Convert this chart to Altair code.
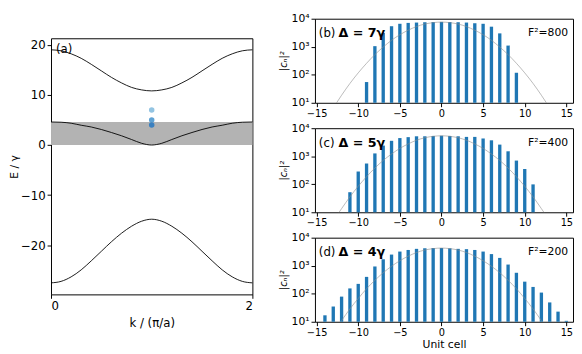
import altair as alt
import pandas as pd

FONT = "DejaVu Sans"

# ---------------- panel (a): band structure ----------------
k_vals = [0.0, 0.1, 0.2, 0.3, 0.4, 0.5, 0.6, 0.7, 0.8, 0.9, 1.0,
          1.1, 1.2, 1.3, 1.4, 1.5, 1.6, 1.7, 1.8, 1.9, 2.0]
band_upper = [19.0, 18.8, 18.2, 17.3, 16.1, 14.8, 13.5, 12.4, 11.5, 11.0, 10.8,
              11.0, 11.5, 12.4, 13.5, 14.8, 16.1, 17.3, 18.2, 18.8, 19.0]
band_middle = [4.6, 4.55, 4.35, 3.95, 3.6, 3.1, 2.5, 1.85, 1.1, 0.35, 0.0,
               0.35, 1.1, 1.85, 2.5, 3.1, 3.6, 3.95, 4.35, 4.55, 4.6]
band_lower = [-27.5, -27.2, -26.3, -24.9, -23.1, -21.2, -19.3, -17.6, -16.2, -15.2, -14.8,
              -15.2, -16.2, -17.6, -19.3, -21.2, -23.1, -24.9, -26.3, -27.2, -27.5]
gap_k = [0.0, 2.0]
gap_E = [0.0, 4.6]
state_k = [1.0, 1.0, 1.0]
state_E = [7.0, 5.0, 4.0]
state_colors = ["#93c4e2", "#5fa2d4", "#3a80c0"]

# ---------------- panels (b)-(d): |c_n|^2 ----------------
n_b = list(range(-9, 10))
c_b = [55, 1050, 3100, 5400, 6600, 7100, 7300, 7500, 7600, 7700,
       7600, 7500, 7300, 6900, 6600, 5200, 3000, 1100, 118]
n_c = list(range(-11, 12))
c_c = [52, 285, 550, 1260, 2400, 3550, 4450, 4800, 5150, 5150, 5300, 5400,
       5300, 5150, 4900, 4900, 4300, 3700, 2600, 1500, 700, 350, 99]
n_d = list(range(-14, 16))
c_d = [17, 35, 79, 155, 225, 400, 940, 1700, 2500, 3200, 3650, 4000, 4200, 4300,
       4300, 4200, 4000, 3900, 3650, 3200, 2600, 1900, 1100, 560, 270, 175, 110, 49, 23, 10.8]

g_n_b = [-12.6, -12, -11, -10, -9, -8, -7, -6, -5, -4, -3, -2, -1, 0,
         1, 2, 3, 4, 5, 6, 7, 8, 9, 10, 11, 12, 12.6]
g_v_b = [10, 18.6, 49, 117, 257, 525, 977, 1700, 2690, 3890, 5250, 6460, 7240, 7590,
         7240, 6460, 5250, 3890, 2690, 1700, 977, 525, 257, 117, 49, 18.6, 10]
g_n_c = [-12.3, -12, -11, -10, -9, -8, -7, -6, -5, -4, -3, -2, -1, 0,
         1, 2, 3, 4, 5, 6, 7, 8, 9, 10, 11, 12, 12.3]
g_v_c = [10, 13.5, 35.5, 85, 186, 380, 708, 1200, 1910, 2750, 3720, 4570, 5130, 5370,
         5130, 4570, 3720, 2750, 1910, 1200, 708, 380, 186, 85, 35.5, 13.5, 10]
g_n_d = [-12.1, -12, -11, -10, -9, -8, -7, -6, -5, -4, -3, -2, -1, 0,
         1, 2, 3, 4, 5, 6, 7, 8, 9, 10, 11, 12, 12.1]
g_v_d = [10, 11, 28.8, 67.6, 151, 302, 562, 955, 1510, 2190, 2950, 3630, 4070, 4270,
         4070, 3630, 2950, 2190, 1510, 955, 562, 302, 151, 67.6, 28.8, 11, 10]

panel_letters = ["(b)", "(c)", "(d)"]
panel_deltas = ["Δ = 7γ", "Δ = 5γ", "Δ = 4γ"]
panel_F2 = ["F²=800", "F²=400", "F²=200"]
x_ticks_right = [-15, -10, -5, 0, 5, 10, 15]
y_ticks_right = [10, 100, 1000, 10000]

BAR_COLOR = "#1f77b4"

# ---------------- build panel (a) ----------------
WL, HL = 206, 262
rows = []
for name, vals in (("upper", band_upper), ("middle", band_middle), ("lower", band_lower)):
    for kk, e in zip(k_vals, vals):
        rows.append({"band": name, "k": kk, "E": e})
bands = pd.DataFrame(rows)
gap = pd.DataFrame({"k0": [gap_k[0]], "k1": [gap_k[1]], "E0": [gap_E[0]], "E1": [gap_E[1]]})
states = pd.DataFrame({"k": state_k, "E": state_E, "col": state_colors})

xa = alt.X("k:Q", scale=alt.Scale(domain=[0, 2], nice=False, zero=False),
           axis=alt.Axis(values=[0, 1, 2], format="d", title="k / (π/a)",
                         labelFontSize=12, titleFontSize=12, titlePadding=7))
ya = alt.Y("E:Q", scale=alt.Scale(domain=[-29.8, 21.3], nice=False, zero=False),
           axis=alt.Axis(values=[-20, -10, 0, 10, 20], title="E / γ",
                         labelFontSize=12, titleFontSize=11, titlePadding=1))

gap_layer = alt.Chart(gap).mark_rect(color="#b3b3b3").encode(
    x=alt.X("k0:Q", scale=alt.Scale(domain=[0, 2], nice=False)), x2="k1:Q",
    y=alt.Y("E0:Q"), y2="E1:Q")
line_layer = alt.Chart(bands).mark_line(color="black", strokeWidth=0.9,
                                        interpolate="monotone").encode(
    x=xa, y=ya, detail="band:N")
dot_layer = alt.Chart(states).mark_circle(size=32, opacity=1).encode(
    x="k:Q", y="E:Q", color=alt.Color("col:N", scale=None))
a_label = alt.Chart(pd.DataFrame({"t": ["(a)"]})).mark_text(
    align="left", baseline="middle", fontSize=12, font=FONT, color="black").encode(
    text="t:N", x=alt.value(5), y=alt.value(11))

left_plot = alt.layer(gap_layer, line_layer, dot_layer, a_label).properties(
    width=WL, height=HL)
spacer = alt.Chart(pd.DataFrame({"v": [0]})).mark_point(opacity=0, size=1).encode(
    x=alt.value(0), y=alt.value(0)).properties(
    width=WL, height=1, view=alt.ViewBackground(stroke="transparent"))
left = alt.vconcat(spacer, left_plot, spacing=17)

# ---------------- build panels (b)-(d) ----------------
WR, HR = 264, 86
label_expr = "'10' + ['⁰','¹','²','³','⁴','⁵'][round(log(datum.value)/LN10)]"


def make_panel(ns, cs, gn, gv, letter, delta, f2, last):
    bars = pd.DataFrame({"n": ns, "c": cs, "base": [10] * len(ns)})
    gauss = pd.DataFrame({"n": gn, "c": gv})
    xs = alt.Scale(domain=[-15.2, 15.8], nice=False, zero=False)
    ys = alt.Scale(type="log", domain=[10, 10000], nice=False)
    xaxis = alt.Axis(values=x_ticks_right, format="d", labelFontSize=10,
                     title="Unit cell" if last else None, titleFontSize=11, titlePadding=1)
    yaxis = alt.Axis(values=y_ticks_right, labelExpr=label_expr, labelFontSize=11,
                     title="|cₙ|²", titleFontSize=10, titleFontStyle="italic",
                     titleFontWeight="normal", titlePadding=3)
    bar_layer = alt.Chart(bars).transform_calculate(
        n0="datum.n - 0.2", n1="datum.n + 0.2").mark_bar(color=BAR_COLOR).encode(
        x=alt.X("n0:Q", scale=xs, axis=xaxis), x2="n1:Q",
        y=alt.Y("c:Q", scale=ys, axis=yaxis), y2="base:Q")
    g_layer = alt.Chart(gauss).mark_line(color="#8c8c8c", strokeWidth=0.6,
                                         interpolate="monotone").encode(
        x=alt.X("n:Q", scale=xs), y=alt.Y("c:Q", scale=ys))
    t1 = alt.Chart(pd.DataFrame({"t": [letter]})).mark_text(
        align="left", baseline="middle", fontSize=12, font=FONT, color="black").encode(
        text="t:N", x=alt.value(4), y=alt.value(15))
    t2 = alt.Chart(pd.DataFrame({"t": [delta]})).mark_text(
        align="left", baseline="middle", fontSize=13, fontWeight="bold", font=FONT,
        color="black").encode(text="t:N", x=alt.value(24), y=alt.value(15))
    t3 = alt.Chart(pd.DataFrame({"t": [f2]})).mark_text(
        align="right", baseline="middle", fontSize=11, font=FONT, color="black").encode(
        text="t:N", x=alt.value(WR - 5), y=alt.value(15))
    return alt.layer(bar_layer, g_layer, t1, t2, t3).properties(width=WR, height=HR)


panel_b = make_panel(n_b, c_b, g_n_b, g_v_b, panel_letters[0], panel_deltas[0], panel_F2[0], False)
panel_c = make_panel(n_c, c_c, g_n_c, g_v_c, panel_letters[1], panel_deltas[1], panel_F2[1], False)
panel_d = make_panel(n_d, c_d, g_n_d, g_v_d, panel_letters[2], panel_deltas[2], panel_F2[2], True)

right = alt.vconcat(panel_b, panel_c, panel_d, spacing=2)

chart = alt.hconcat(left, right, spacing=23).properties(padding=0).configure(
    font=FONT
).configure_view(
    stroke="black", strokeWidth=1
).configure_axis(
    grid=False, domain=False, ticks=True, tickColor="black", tickSize=4,
    labelColor="black", titleColor="black", labelFont=FONT, titleFont=FONT,
    titleFontWeight="normal", labelPadding=2
)

chart.save("out.html", embed_options={"renderer": "svg", "actions": False})
